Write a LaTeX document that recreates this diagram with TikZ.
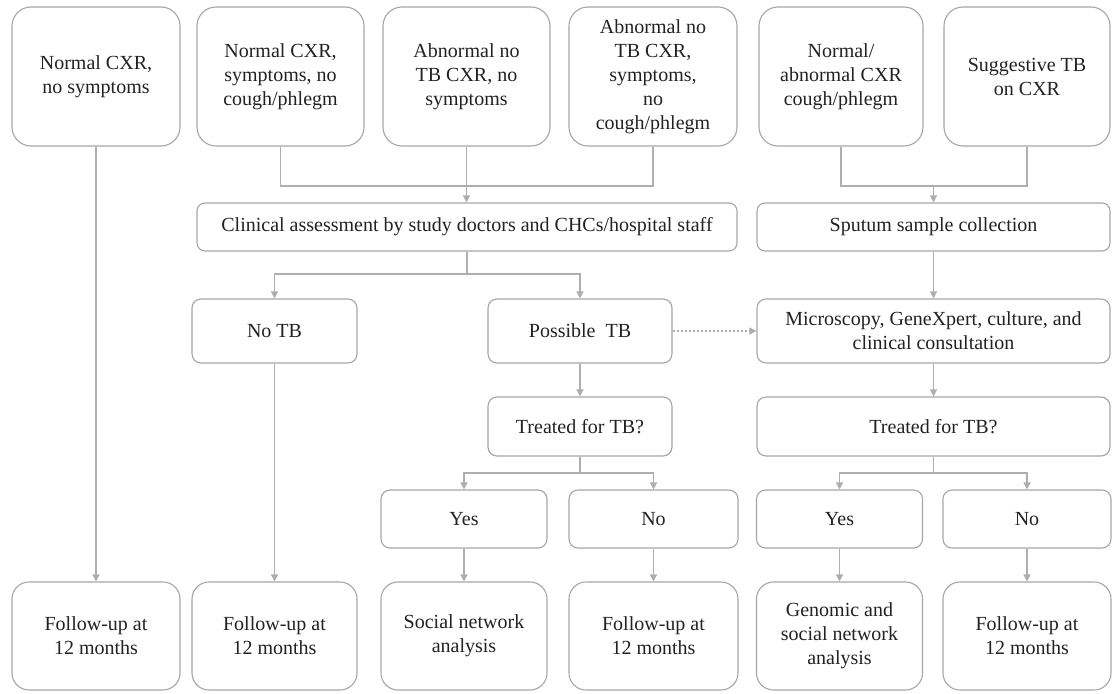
\documentclass[tikz,border=0pt]{standalone}
\usepackage{fontspec}
\setmainfont{Liberation Serif}
\usetikzlibrary{arrows.meta}
\definecolor{boxc}{HTML}{A6A6A6}
\definecolor{linec}{HTML}{AEAEAE}
\definecolor{txtc}{HTML}{222222}
\begin{document}
\begin{tikzpicture}[x=1pt,y=-1pt,
  bx/.style={draw=boxc, line width=1.1pt, fill=white, align=center, inner sep=0pt,
    text=txtc, font=\fontsize{20}{24}\selectfont},
  big/.style={bx, rounded corners=19pt},
  mid/.style={bx, rounded corners=9pt},
  ln/.style={draw=linec, line width=1.3pt},
  arr/.style={ln, -{Triangle[width=7pt,length=7pt]}},
  dotarr/.style={ln, line width=1.1pt, dash pattern=on 2pt off 2pt, -{Triangle[width=7pt,length=7pt]}}
]
\useasboundingbox (0,0) rectangle (1115,693);
\fill[white] (0,0) rectangle (1115,693);
% top row
\node[big, minimum width=168pt, minimum height=139pt] (t1) at (96,76.5) {Normal CXR,\\no symptoms};
\node[big, minimum width=167pt, minimum height=139pt] (t2) at (280.5,76.5) {Normal CXR,\\symptoms, no\\cough/phlegm};
\node[big, minimum width=167pt, minimum height=139pt] (t3) at (466.5,76.5) {Abnormal no\\TB CXR, no\\symptoms};
\node[big, minimum width=168pt, minimum height=139pt] (t4) at (653,76.5) {Abnormal no\\TB CXR,\\symptoms,\\no\\cough/phlegm};
\node[big, minimum width=164pt, minimum height=139pt] (t5) at (841,76.5) {Normal/\\abnormal CXR\\cough/phlegm};
\node[big, minimum width=166pt, minimum height=139pt] (t6) at (1027,76.5) {Suggestive TB\\on CXR};
% second row
\node[mid, rounded corners=8pt, minimum width=540pt, minimum height=48pt] (clin) at (467,227) {Clinical assessment by study doctors and CHCs/hospital staff};
\node[mid, rounded corners=8pt, minimum width=353pt, minimum height=48pt] (sput) at (933.5,227) {Sputum sample collection};
% third row
\node[mid, minimum width=165pt, minimum height=64pt] (notb) at (274.5,331) {No TB};
\node[mid, minimum width=184pt, minimum height=64pt] (ptb) at (580,331) {Possible\enspace TB};
\node[mid, minimum width=353pt, minimum height=64pt] (micro) at (933.5,331) {Microscopy, GeneXpert, culture, and\\clinical consultation};
% fourth row
\node[mid, minimum width=184pt, minimum height=59pt] (trl) at (580,426.5) {Treated for TB?};
\node[mid, minimum width=353pt, minimum height=59pt] (trr) at (933.5,426.5) {Treated for TB?};
% fifth row
\node[mid, minimum width=166pt, minimum height=58pt] (yesl) at (464,519) {Yes};
\node[mid, minimum width=169pt, minimum height=58pt] (nol) at (653.5,519) {No};
\node[mid, minimum width=166pt, minimum height=58pt] (yesr) at (839.5,519) {Yes};
\node[mid, minimum width=168pt, minimum height=58pt] (nor) at (1027,519) {No};
% bottom row
\node[big, rounded corners=17pt, minimum width=168pt, minimum height=108pt] (f1) at (96,636) {Follow-up at\\12 months};
\node[big, rounded corners=17pt, minimum width=165pt, minimum height=108pt] (f2) at (274.5,636) {Follow-up at\\12 months};
\node[big, rounded corners=17pt, minimum width=166pt, minimum height=108pt] (f3) at (464,636) {Social network\\analysis};
\node[big, rounded corners=17pt, minimum width=169pt, minimum height=108pt] (f4) at (653.5,636) {Follow-up at\\12 months};
\node[big, rounded corners=17pt, minimum width=166pt, minimum height=108pt] (f5) at (839.5,636) {Genomic and\\social network\\analysis};
\node[big, rounded corners=17pt, minimum width=168pt, minimum height=108pt] (f6) at (1027,636) {Follow-up at\\12 months};
% junctions
\coordinate (j1) at (466.5,186);
\coordinate (j2) at (933.5,186);
\coordinate (j3) at (467,274);
\coordinate (j4) at (580,473);
\coordinate (j5) at (933.5,473);
% connectors
\draw[ln] (t2.south) |- (t4.south |- j1) -- (t4.south);
\draw[arr] (t3.south) -- (t3.south |- clin.north);
\draw[ln] (t5.south) |- (t6.south |- j2) -- (t6.south);
\draw[arr] (j2) -- (sput.north);
\draw[ln] (clin.south) -- (j3);
\draw[arr] (j3) -| (notb.north);
\draw[arr] (j3) -| (ptb.north);
\draw[dotarr] (ptb.east) -- (micro.west);
\draw[arr] (sput.south) -- (micro.north);
\draw[arr] (ptb.south) -- (trl.north);
\draw[arr] (micro.south) -- (trr.north);
\draw[ln] (trl.south) -- (j4);
\draw[arr] (j4) -| (yesl.north);
\draw[arr] (j4) -| (nol.north);
\draw[ln] (trr.south) -- (j5);
\draw[arr] (j5) -| (yesr.north);
\draw[arr] (j5) -| (nor.north);
\draw[arr] (t1.south) -- (f1.north);
\draw[arr] (notb.south) -- (f2.north);
\draw[arr] (yesl.south) -- (f3.north);
\draw[arr] (nol.south) -- (f4.north);
\draw[arr] (yesr.south) -- (f5.north);
\draw[arr] (nor.south) -- (f6.north);
\end{tikzpicture}
\end{document}
